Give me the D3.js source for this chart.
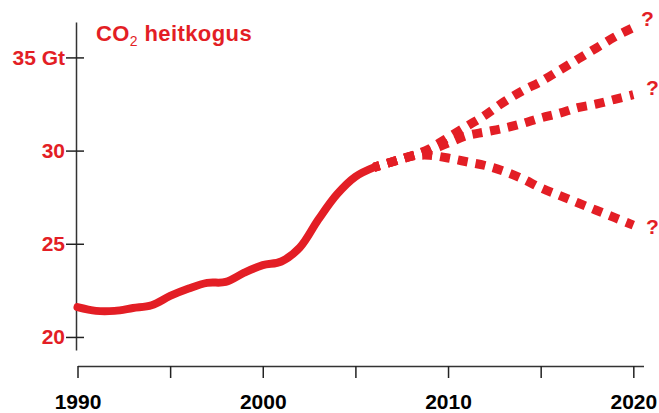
<!DOCTYPE html>
<html>
<head>
<meta charset="utf-8">
<script src="https://cdn.jsdelivr.net/npm/d3@7"></script>
<style>
  body { margin: 0; background: #fff; }
  text { font-family: "Liberation Sans", Arial, sans-serif; font-weight: bold; }
</style>
</head>
<body>
<div id="chart"></div>
<script>
var width = 659, height = 413;
var red = "#e31e25";

// historical emissions, Gt CO2
var years = [1990, 1991, 1992, 1993, 1994, 1995, 1996, 1997, 1998, 1999, 2000, 2001, 2002, 2003, 2004, 2005, 2006];
var emissions = [21.6, 21.4, 21.4, 21.55, 21.7, 22.2, 22.6, 22.9, 22.95, 23.45, 23.85, 24.05, 24.8, 26.3, 27.65, 28.6, 29.1];

// scenarios 2006-2020
var projYears = [2006, 2007, 2008, 2009, 2010, 2011, 2012, 2013, 2014, 2015, 2016, 2017, 2018, 2019, 2020];
var projHigh = [29.1, 29.4, 29.7, 30.1, 30.7, 31.3, 31.9, 32.6, 33.2, 33.7, 34.3, 34.9, 35.5, 36.1, 36.6];
var projMid  = [29.1, 29.4, 29.7, 30.0, 30.4, 30.8, 31.0, 31.2, 31.45, 31.75, 32.0, 32.3, 32.5, 32.75, 33.0];
var projLow  = [29.1, 29.4, 29.7, 29.75, 29.6, 29.4, 29.2, 28.9, 28.5, 28.0, 27.6, 27.2, 26.8, 26.4, 26.0];

// question marks at end of scenarios
var qYears = [2020.76, 2021.03, 2021.03];
var qValues = [37.07, 33.41, 25.94];

var yTicks = [20, 25, 30, 35];
var yLabels = ["20", "25", "30", "35 Gt"];
var xTicks = [1990, 1995, 2000, 2005, 2010, 2015, 2020];
var xLabelYears = [1990, 2000, 2010, 2020];

var svg = d3.select("#chart").append("svg")
    .attr("width", width)
    .attr("height", height);

var x = d3.scaleLinear()
    .domain([1990, 2020.55])
    .range([77.5, 643.5]);

var y = d3.scaleLinear()
    .domain([19.3, 36.9])
    .range([350, 22]);

// Y axis
var yAxis = svg.append("g")
    .attr("transform", "translate(76,0)")
    .call(d3.axisLeft(y).tickValues(yTicks).tickSizeOuter(0).tickSizeInner(10)
        .tickFormat(function(d, i) { return yLabels[i]; }));
yAxis.select(".domain").attr("stroke", "#333").attr("stroke-width", 1.5);
yAxis.selectAll(".tick line").attr("x1", 8).attr("x2", -10).attr("stroke", "#222").attr("stroke-width", 1.5);
yAxis.selectAll(".tick text")
    .attr("x", -11)
    .attr("fill", red)
    .style("font-size", "21px");

// X axis
var xAxis = svg.append("g")
    .attr("transform", "translate(0,366)")
    .call(d3.axisBottom(x).tickValues(xTicks).tickSizeOuter(0).tickSizeInner(12)
        .tickFormat(function(d) { return xLabelYears.indexOf(d) >= 0 ? d : ""; }));
xAxis.select(".domain").attr("stroke", "#333").attr("stroke-width", 1.5);
xAxis.selectAll(".tick line").attr("stroke", "#222").attr("stroke-width", 1.5);
xAxis.selectAll(".tick text")
    .attr("y", 28)
    .attr("fill", "#000")
    .style("font-size", "21px");

// title
var title = svg.append("text")
    .attr("x", 96)
    .attr("y", 41)
    .attr("fill", red)
    .style("font-size", "22px")
    .style("letter-spacing", "0.4px");
title.append("tspan").text("CO");
title.append("tspan").attr("dy", 5).style("font-size", "14px").style("font-weight", "normal").text("2");
title.append("tspan").attr("dy", -5).text(" heitkogus");

var line = d3.line()
    .x(function(d) { return x(d[0]); })
    .y(function(d) { return y(d[1]); })
    .curve(d3.curveCatmullRom.alpha(0.5));

// scenarios (dashed)
[projHigh, projMid, projLow].forEach(function(vals) {
    svg.append("path")
        .datum(projYears.map(function(yr, i) { return [yr, vals[i]]; }))
        .attr("d", line)
        .attr("fill", "none")
        .attr("stroke", red)
        .attr("stroke-width", 9)
        .attr("stroke-dasharray", "10,8")
        .attr("stroke-dashoffset", 4);
});

// history (solid)
svg.append("path")
    .datum(years.map(function(yr, i) { return [yr, emissions[i]]; }))
    .attr("d", line)
    .attr("fill", "none")
    .attr("stroke", red)
    .attr("stroke-width", 8)
    .attr("stroke-linecap", "round")
    .attr("stroke-linejoin", "round");

svg.selectAll(".q")
    .data(qValues)
    .enter()
    .append("text")
    .attr("class", "q")
    .attr("x", function(d, i) { return x(qYears[i]); })
    .attr("y", function(d) { return y(d); })
    .attr("dy", "0.36em")
    .attr("text-anchor", "middle")
    .attr("fill", red)
    .style("font-size", "21px")
    .text("?");
</script>
</body>
</html>
